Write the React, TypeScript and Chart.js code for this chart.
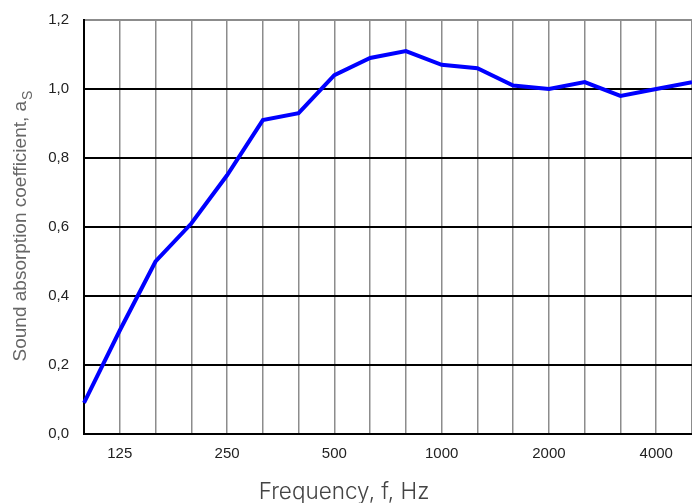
import { useEffect, useRef } from 'react';
import { Chart, registerables } from 'chart.js';

Chart.register(...registerables);

const frequencies = ['100', '125', '160', '200', '250', '315', '400', '500', '630', '800', '1000', '1250', '1600', '2000', '2500', '3150', '4000', '5000'];
const absorption = [0.09, 0.30, 0.50, 0.61, 0.75, 0.91, 0.93, 1.04, 1.09, 1.11, 1.07, 1.06, 1.01, 1.00, 1.02, 0.98, 1.00, 1.02];
const labeledFrequencies = ['125', '250', '500', '1000', '2000', '4000'];
const yMin = 0;
const yMax = 1.2;
const yStep = 0.2;
const xTitle = 'Frequency, f, Hz';
const yTitle = 'Sound absorption coefficient, a';
const yTitleSub = 'S';

const titlePlugin = {
  id: 'customTitles',
  afterDraw(chart: any) {
    const ctx = chart.ctx;
    ctx.save();
    // x title
    ctx.font = '300 22.5px Inter';
    ctx.fillStyle = '#444';
    ctx.textAlign = 'center';
    ctx.textBaseline = 'alphabetic';
    ctx.fillText(xTitle, 344, 499);
    // y title with subscript
    ctx.translate(26, 226);
    ctx.rotate(-Math.PI / 2);
    const mainFont = '19px "Liberation Sans"';
    const subFont = '14px "Liberation Sans"';
    ctx.font = mainFont;
    const w1 = ctx.measureText(yTitle).width;
    ctx.font = subFont;
    const w2 = ctx.measureText(yTitleSub).width;
    const start = -(w1 + w2 + 1) / 2;
    ctx.textAlign = 'left';
    ctx.fillStyle = '#666';
    ctx.font = mainFont;
    ctx.fillText(yTitle, start, 0);
    ctx.font = subFont;
    ctx.fillText(yTitleSub, start + w1 + 1, 6);
    ctx.restore();
  },
};

export default function App() {
  const canvasRef = useRef<HTMLCanvasElement | null>(null);

  useEffect(() => {
    if (!canvasRef.current) return;
    const chart = new Chart(canvasRef.current, {
      type: 'line',
      data: {
        labels: frequencies,
        datasets: [
          {
            data: absorption,
            borderColor: '#0000ff',
            borderWidth: 4,
            pointRadius: 0,
            pointHoverRadius: 0,
            tension: 0,
            fill: false,
          },
        ],
      },
      options: {
        responsive: false,
        animation: false,
        events: [],
        layout: { padding: { top: 20, right: 0, left: 0, bottom: 0 } },
        plugins: {
          legend: { display: false },
          tooltip: { enabled: false },
          title: { display: false },
        },
        scales: {
          x: {
            type: 'category',
            offset: false,
            grid: {
              color: (c: any) => (c.index === 0 ? '#000' : '#8c8c8c'),
              lineWidth: 1.5,
              drawTicks: false,
            },
            border: { color: '#000', width: 2 },
            ticks: {
              autoSkip: false,
              maxRotation: 0,
              minRotation: 0,
              padding: 11,
              color: '#222',
              font: { family: 'Liberation Sans', size: 15 },
              callback: (_v: any, i: number) =>
                labeledFrequencies.includes(frequencies[i]) ? frequencies[i] : '',
            },
            afterFit: (s: any) => {
              s.height = 69;
              s.paddingLeft = 0;
              s.paddingRight = 0;
            },
          },
          y: {
            min: yMin,
            max: yMax,
            grid: {
              color: (c: any) => (c.tick && c.tick.value >= yMax - 1e-9 ? '#8c8c8c' : '#000'),
              lineWidth: 2,
              drawTicks: false,
            },
            border: { color: '#000', width: 2 },
            ticks: {
              stepSize: yStep,
              padding: 15,
              color: '#222',
              font: { family: 'Liberation Sans', size: 15 },
              callback: (v: any) => Number(v).toFixed(1).replace('.', ','),
            },
            afterFit: (s: any) => {
              s.width = 84;
              s.paddingTop = 0;
              s.paddingBottom = 0;
            },
          },
        },
      },
      plugins: [titlePlugin],
    });
    return () => chart.destroy();
  }, []);

  return (
    <div style={{ position: 'fixed', left: 0, top: 0, width: 692, height: 503, background: '#fff' }}>
      <canvas ref={canvasRef} width={692} height={503} />
    </div>
  );
}
